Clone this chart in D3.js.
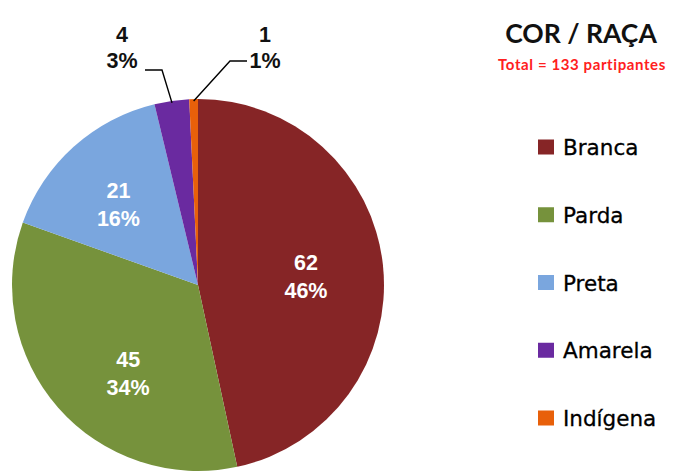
<!DOCTYPE html>
<html>
<head>
<meta charset="utf-8">
<script src="https://cdn.jsdelivr.net/npm/d3@7"></script>
<style>
 body { margin:0; background:#fff; }
</style>
</head>
<body>
<script>
var categories = ["Branca", "Parda", "Preta", "Amarela", "Indígena"];
var counts = [62, 45, 21, 4, 1];
var percents = ["46%", "34%", "16%", "3%", "1%"];
var colors = ["#862526", "#76923c", "#7aa6de", "#6a2aa0", "#e8600a"];

var svg = d3.select("body").append("svg")
 .attr("width", 677).attr("height", 472);

var cx = 198, cy = 285, r = 186;

var pie = d3.pie().sort(null).value(function(d) { return d; });
var arcs = pie(counts);
var arc = d3.arc().innerRadius(0).outerRadius(r);

var g = svg.append("g").attr("transform", "translate(" + cx + "," + cy + ")");

g.selectAll("path").data(arcs).enter().append("path")
 .attr("d", arc)
 .attr("fill", function(d, i) { return colors[i]; });

/*inside labels for the big slices, nudged like excel's best fit*/
var labelArc = d3.arc().innerRadius(r * 0.6).outerRadius(r * 0.6);
var labelFont = "'Liberation Sans', Arial, sans-serif";
var nudge = [[-3, -3], [14, 8], [-5, -4]];

arcs.forEach(function(d, i) {
 if (i > 2) return;
 var c = labelArc.centroid(d);
 var x = c[0] + nudge[i][0], y = c[1] + nudge[i][1];
 var t = g.append("text")
  .attr("text-anchor", "middle")
  .attr("font-family", labelFont).attr("font-weight", "bold")
  .attr("font-size", 21.5).attr("fill", "#fff");
 t.append("tspan").attr("x", x).attr("y", y).text(counts[i]);
 t.append("tspan").attr("x", x).attr("y", y + 28).text(percents[i]);
});

/*outside labels with leader lines for the two small slices*/
var outside = [
 { i: 3, tx: 122, ty: 42, line: [[145, 70], [162, 70]] },
 { i: 4, tx: 265, ty: 42, line: [[247, 61], [230, 61]] }
];
var edgeArc = d3.arc().innerRadius(r - 2).outerRadius(r - 2);

outside.forEach(function(o) {
 var d = arcs[o.i];
 var p = edgeArc.centroid(d);
 var pts = o.line.concat([[p[0] + cx, p[1] + cy]]);
 svg.append("path")
  .attr("d", d3.line()(pts))
  .attr("fill", "none").attr("stroke", "#000").attr("stroke-width", 1.4);
 var t = svg.append("text")
  .attr("text-anchor", "middle")
  .attr("font-family", labelFont).attr("font-weight", "bold")
  .attr("font-size", 21.5).attr("fill", "#111");
 t.append("tspan").attr("x", o.tx).attr("y", o.ty).text(counts[o.i]);
 t.append("tspan").attr("x", o.tx).attr("y", o.ty + 26).text(percents[o.i]);
});

/*title*/
svg.append("text").text("COR / RAÇA")
 .attr("x", 581).attr("y", 43).attr("text-anchor", "middle")
 .attr("font-family", "Lato, sans-serif").attr("font-weight", "bold")
 .attr("font-size", 26.5).attr("fill", "#111");
svg.append("text").text("Total = 133 partipantes")
 .attr("x", 582).attr("y", 70).attr("text-anchor", "middle")
 .attr("font-family", "Lato, sans-serif").attr("font-weight", "bold")
 .attr("font-size", 15).attr("letter-spacing", 0.6).attr("fill", "#ff2020");

/*legend*/
var ly = d3.scalePoint().domain(categories).range([147, 418]);
var leg = svg.selectAll("g.leg").data(categories).enter().append("g")
 .attr("class", "leg")
 .attr("transform", function(d) { return "translate(538," + ly(d) + ")"; });
leg.append("rect").attr("x", 0).attr("y", -7.5).attr("width", 16).attr("height", 15)
 .attr("fill", function(d, i) { return colors[i]; });
leg.append("text").text(function(d) { return d; })
 .attr("x", 25).attr("y", 8)
 .attr("font-family", "'DejaVu Sans', sans-serif")
 .attr("font-size", 21.5).attr("stroke", "#000").attr("stroke-width", 0.3)
 .attr("fill", "#000");
</script>
</body>
</html>
